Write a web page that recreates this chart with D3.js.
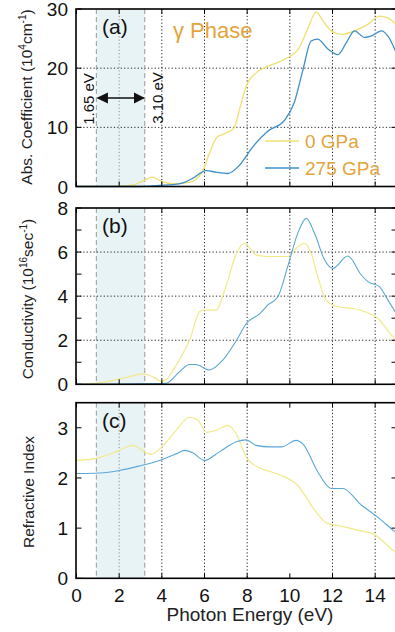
<!DOCTYPE html>
<html>
<head>
<meta charset="utf-8">
<script src="https://d3js.org/d3.v7.min.js"></script>
<style>
  html, body { margin: 0; padding: 0; background: #fff; }
  svg { display: block; font-family: "Liberation Sans", Arial, sans-serif; }
  .grid { stroke: #222; stroke-width: 1; stroke-dasharray: 1.2 2.2; fill: none; }
  .frame { fill: none; stroke: #000; stroke-width: 1.6; }
  .tick { stroke: #000; stroke-width: 1; }
  .ticklab { font-size: 19px; fill: #111; }
  .axlab { font-size: 15.5px; fill: #222; }
</style>
</head>
<body>
<div id="chart"></div>
<script>
// photon energy axis (eV)
var xTicks = [0, 2, 4, 6, 8, 10, 12, 14];
var band = [0.93, 3.2];   // shaded visible-light band as drawn

// (a) absorption coefficient, 10^4 cm^-1  [E, value]
var abs0 = [[0,0],[1,0],[2,0.05],[2.7,0.3],[2.95,0.7],[3.3,1.2],[3.58,1.6],[3.9,1.0],[4.5,0.5],[5.3,0.7],[5.85,2.2],[6.23,5.6],[6.6,8.4],[7.0,9],[7.4,10],[7.64,13],[7.95,16.9],[8.42,19.2],[8.95,20.3],[9.75,21.5],[10.4,23.2],[10.83,26.6],[11.24,29.5],[11.5,28.3],[11.94,26.3],[12.4,25.7],[13.03,26.3],[13.65,27.4],[14.2,28.8],[14.6,28.5],[15,27.3]];
var abs275 = [[0,0],[3,0],[3.9,0.2],[4.5,0.3],[5.0,0.6],[5.45,1.4],[6.08,2.7],[6.55,2.4],[7.1,2.2],[7.64,3.6],[8.26,6.7],[8.95,9.3],[9.75,11.2],[10.2,14.1],[10.6,19.5],[11.0,24.6],[11.3,24.9],[11.8,23.2],[12.25,22.3],[12.65,24.3],[13.03,26.3],[13.5,25.2],[13.8,25.4],[14.3,26.3],[14.6,25.4],[15,22.5]];

// (b) optical conductivity, 10^16 sec^-1
var cond0 = [[0,0],[0.92,0.05],[2.3,0.3],[3.1,0.47],[3.7,0.28],[3.95,0.14],[4.2,0.2],[4.5,0.6],[5.1,1.6],[5.3,2.0],[5.77,3.3],[5.95,3.37],[6.55,3.37],[7.0,4.43],[7.5,5.95],[7.88,6.4],[8.42,5.87],[8.97,5.8],[9.9,5.8],[10.37,6.24],[10.69,6.4],[11.0,5.95],[11.31,4.88],[11.7,3.82],[12.25,3.52],[12.88,3.45],[13.5,3.3],[14.12,3.0],[14.83,2.16],[15,2.0]];
var cond275 = [[0,0],[4.2,0.05],[4.83,0.57],[5.3,0.9],[5.6,0.9],[6.23,0.65],[6.86,1.1],[7.5,2.0],[7.97,2.77],[8.58,3.2],[8.97,3.6],[9.44,3.97],[9.9,5.34],[10.37,6.85],[10.77,7.53],[11.16,6.85],[11.63,5.64],[12.02,5.26],[12.72,5.82],[13.35,4.96],[13.66,4.66],[14.2,4.43],[14.6,3.82],[15,3.2]];

// (c) refractive index
var ref0 = [[0,2.35],[0.92,2.39],[1.86,2.52],[2.64,2.65],[3.27,2.5],[3.5,2.47],[4.05,2.64],[4.67,2.95],[5.3,3.21],[5.69,3.15],[6.08,2.91],[6.55,2.95],[7.09,3.05],[7.49,2.88],[7.95,2.42],[8.58,2.2],[9.05,2.13],[9.6,2.05],[10.37,1.85],[11.16,1.36],[11.78,1.09],[12.41,1.04],[13.19,0.96],[13.89,0.89],[14.83,0.56],[15,0.5]];
var ref275 = [[0,2.09],[1.08,2.1],[2.02,2.15],[2.95,2.24],[3.89,2.35],[4.67,2.48],[5.06,2.55],[5.45,2.5],[6.0,2.35],[6.7,2.52],[7.49,2.72],[7.95,2.76],[8.42,2.65],[9.05,2.62],[9.6,2.62],[10.3,2.75],[10.61,2.68],[11.31,2.12],[11.94,1.79],[12.48,1.79],[13.35,1.46],[14.12,1.22],[14.83,0.96],[15,0.9]];

var seriesNames = ["0 GPa", "275 GPa"];

var width = 395, height = 632;
var yellow = "#efe070", blue = "#3f8fca";

var svg = d3.select("#chart").append("svg")
    .attr("width", width).attr("height", height);

var x = d3.scaleLinear().domain([0, 15]).range([76.5, 396.5]);

var panels = [
    {id: "a", top: 9, bottom: 186.5, domain: [0, 30], major: [0, 10, 20, 30], minor: [],
     hgrid: [10, 20], vgrid: [2, 4, 6, 8, 10, 12, 14], data: [abs0, abs275],
     colors: [yellow, blue], width: [1.3, 1.3]},
    {id: "b", top: 208, bottom: 384.3, domain: [0, 8], major: [0, 2, 4, 6, 8], minor: [1, 3, 5, 7],
     hgrid: [2, 4, 6], vgrid: [4, 6, 8, 10, 12, 14], data: [cond0, cond275],
     colors: ["#f2e98a", "#5aa8d6"], width: [1.2, 1.1]},
    {id: "c", top: 402.7, bottom: 578.3, domain: [0, 3.5], major: [0, 1, 2, 3], minor: [],
     hgrid: [], vgrid: [2, 4, 6, 8, 12, 14], data: [ref0, ref275],
     colors: ["#f2e98a", "#5aa8d6"], width: [1.2, 1.1]}
];

panels.forEach(function (p) {
    var y = d3.scaleLinear().domain(p.domain).range([p.bottom, p.top]);
    var g = svg.append("g");

    // shaded band
    g.append("rect")
        .attr("x", x(band[0])).attr("y", p.top)
        .attr("width", x(band[1]) - x(band[0])).attr("height", p.bottom - p.top)
        .attr("fill", "#e8f3f6");

    g.selectAll("line.hg").data(p.hgrid).enter().append("line")
        .attr("class", "grid")
        .attr("x1", x(0)).attr("x2", x(15))
        .attr("y1", function (d) { return y(d); }).attr("y2", function (d) { return y(d); });

    g.selectAll("line.vg").data(p.vgrid).enter().append("line")
        .attr("class", "grid")
        .attr("stroke-opacity", function (d) { return d === 2 ? 0.45 : 1; })
        .attr("x1", function (d) { return x(d); }).attr("x2", function (d) { return x(d); })
        .attr("y1", p.top).attr("y2", p.bottom);

    // band edges
    g.selectAll("line.be").data(band).enter().append("line")
        .attr("x1", function (d) { return x(d); }).attr("x2", function (d) { return x(d); })
        .attr("y1", p.top).attr("y2", p.bottom)
        .attr("stroke", "#999").attr("stroke-width", 1).attr("stroke-dasharray", "5 3");

    var line = d3.line()
        .x(function (d) { return x(d[0]); })
        .y(function (d) { return y(d[1]); })
        .curve(d3.curveMonotoneX);

    p.data.forEach(function (s, i) {
        g.append("path").datum(s)
            .attr("d", line)
            .attr("fill", "none")
            .attr("stroke", p.colors[i])
            .attr("stroke-width", p.width[i]);
    });

    // ticks
    xTicks.forEach(function (t) {
        g.append("line").attr("class", "tick")
            .attr("x1", x(t)).attr("x2", x(t)).attr("y1", p.bottom).attr("y2", p.bottom - 5);
        g.append("line").attr("class", "tick")
            .attr("x1", x(t)).attr("x2", x(t)).attr("y1", p.top).attr("y2", p.top + 5);
    });
    p.major.concat(p.minor).forEach(function (t) {
        g.append("line").attr("class", "tick")
            .attr("x1", x(0)).attr("x2", x(0) + 5).attr("y1", y(t)).attr("y2", y(t));
        g.append("line").attr("class", "tick")
            .attr("x1", x(15)).attr("x2", x(15) - 5).attr("y1", y(t)).attr("y2", y(t));
    });

    g.append("rect").attr("class", "frame")
        .attr("x", x(0) - 0.5).attr("y", p.top)
        .attr("width", x(15) - x(0) + 0.5).attr("height", p.bottom - p.top);

    g.selectAll("text.yl").data(p.major).enter().append("text")
        .attr("class", "ticklab")
        .attr("x", 68).attr("y", function (d) { return y(d) + 7; })
        .attr("text-anchor", "end")
        .text(function (d) { return d; });

    g.append("text")
        .attr("x", 102).attr("y", p.top + 25)
        .attr("font-size", 21).attr("fill", "#111")
        .text("(" + p.id + ")");
});

// x tick labels and title
svg.selectAll("text.xl").data(xTicks).enter().append("text")
    .attr("class", "ticklab")
    .attr("x", function (d) { return x(d); }).attr("y", 602)
    .attr("text-anchor", "middle")
    .text(function (d) { return d; });

svg.append("text")
    .attr("x", 250).attr("y", 621).attr("text-anchor", "middle")
    .attr("font-size", 19).attr("fill", "#222")
    .text("Photon Energy (eV)");

// y axis titles
function yTitle(cx, cy, parts) {
    var t = svg.append("text").attr("class", "axlab")
        .attr("text-anchor", "middle")
        .attr("transform", "translate(" + cx + "," + cy + ") rotate(-90)");
    parts.forEach(function (p) {
        var ts = t.append("tspan").text(p[0]);
        if (p[1]) ts.attr("font-size", 10).attr("dy", -6);
        if (p[2]) ts.attr("dy", 6);
    });
}
yTitle(32, 97, [["Abs. Coefficient (10"], ["4", 1], ["cm", 0, 1], ["-1", 1], [")", 0, 1]]);
yTitle(33, 299, [["Conductivity (10"], ["16", 1], ["sec", 0, 1], ["-1", 1], [")", 0, 1]]);
yTitle(34, 492, [["Refractive Index"]]);

// panel (a) annotations
svg.append("text")
    .attr("x", 173).attr("y", 38)
    .attr("font-size", 22).attr("fill", "#e3a43c")
    .text("γ Phase");

var legY = [141, 168];
seriesNames.forEach(function (n, i) {
    svg.append("line")
        .attr("x1", 265).attr("x2", 299).attr("y1", legY[i]).attr("y2", legY[i])
        .attr("stroke", i === 0 ? yellow : blue).attr("stroke-width", 1.4);
    svg.append("text")
        .attr("x", 305).attr("y", legY[i] + 7)
        .attr("font-size", 19).attr("fill", "#e3a43c")
        .text(n);
});

// double arrow over the band
svg.append("defs").append("marker")
    .attr("id", "ah").attr("viewBox", "0 0 10 10")
    .attr("refX", 9).attr("refY", 5)
    .attr("markerWidth", 7).attr("markerHeight", 7)
    .attr("orient", "auto-start-reverse")
    .append("path").attr("d", "M0,0 L10,5 L0,10 Z").attr("fill", "#111");

svg.append("line")
    .attr("x1", x(band[0]) + 1.5).attr("x2", x(band[1]) - 1)
    .attr("y1", 98).attr("y2", 98)
    .attr("stroke", "#111").attr("stroke-width", 1.6)
    .attr("marker-start", "url(#ah)").attr("marker-end", "url(#ah)");

[["1.65 eV", 94, 99], ["3.10 eV", 163, 98]].forEach(function (l) {
    svg.append("text")
        .attr("text-anchor", "middle")
        .attr("font-size", 15).attr("fill", "#111")
        .attr("transform", "translate(" + l[1] + "," + l[2] + ") rotate(-90)")
        .text(l[0]);
});
</script>
</body>
</html>
